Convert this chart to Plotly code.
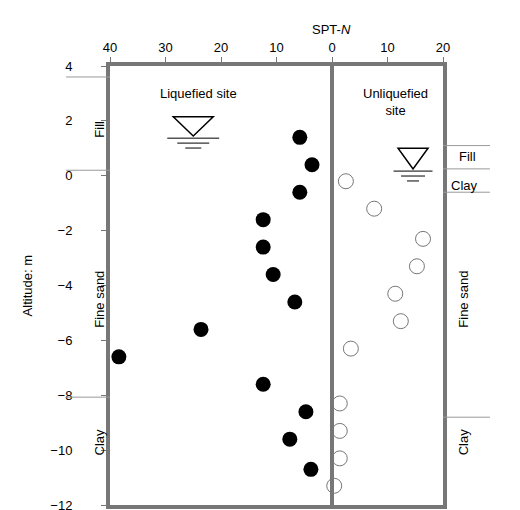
import plotly.graph_objects as go

liq_n = [5.8, 3.6, 5.8, 12.4, 12.4, 10.6, 6.7, 23.6, 38.4, 12.4, 4.7, 7.6, 3.8]
liq_alt = [1.4, 0.4, -0.6, -1.6, -2.6, -3.6, -4.6, -5.6, -6.6, -7.6, -8.6, -9.6, -10.7]
unl_n = [2.5, 7.6, 16.4, 15.3, 11.4, 12.4, 3.4, 1.4, 1.4, 1.4, 0.4]
unl_alt = [-0.2, -1.2, -2.3, -3.3, -4.3, -5.3, -6.3, -8.3, -9.3, -10.3, -11.3]
x_ticks = [-40, -30, -20, -10, 0, 10, 20]
x_labels = ["40", "30", "20", "10", "0", "10", "20"]
y_ticks = [-12, -10, -8, -6, -4, -2, 0, 2, 4]

fig = go.Figure()
fig.add_trace(go.Scatter(x=[-v for v in liq_n], y=liq_alt, mode="markers",
                         marker=dict(size=15, color="black"), showlegend=False))
fig.add_trace(go.Scatter(x=unl_n, y=unl_alt, mode="markers",
                         marker=dict(size=15, color="white", line=dict(color="#777", width=1)),
                         showlegend=False))

shapes = [dict(type="line", x0=0, x1=0, y0=-12, y1=4, line=dict(color="#777", width=4))]
grey = dict(color="#999", width=1)
for y in [3.6, 0.2, -8.07]:
    shapes.append(dict(type="line", xref="paper", x0=-0.132, x1=0, y0=y, y1=y, line=grey))
for y in [1.1, 0.25, -0.6, -8.8]:
    shapes.append(dict(type="line", xref="paper", x0=1, x1=1.141, y0=y, y1=y, line=grey))

def wt(xc, ytop, yap, hw):
    s = [dict(type="path", path=f"M {xc-hw},{ytop} L {xc+hw},{ytop} L {xc},{yap} Z",
              line=dict(color="black", width=1.5))]
    for i, w in enumerate([hw*1.3, hw*0.8, hw*0.4]):
        yy = yap - 0.08 - i*0.18
        s.append(dict(type="line", x0=xc-w, x1=xc+w, y0=yy, y1=yy, line=dict(color="black", width=1)))
    return s
shapes += wt(-25, 2.15, 1.45, 3.6)
shapes += wt(14.6, 1.0, 0.25, 2.7)

ann = []
def a(x, y, t, xref="paper", yref="paper", ang=0, size=13):
    ann.append(dict(x=x, y=y, xref=xref, yref=yref, text=t, showarrow=False, textangle=ang,
                    font=dict(size=size, color="black")))
a(-24, 3.0, "Liquefied site", xref="x", yref="y")
a(11.5, 2.7, "Unliquefied<br>site", xref="x", yref="y")
a(-0.06, 1.7, "Fill", yref="y", ang=-90)
a(-0.06, -4.5, "Fine sand", yref="y", ang=-90)
a(-0.06, -9.7, "Clay", yref="y", ang=-90)
a(1.105, 0.7, "Fill", yref="y")
a(1.11, -0.35, "Clay", yref="y")
a(1.09, -4.5, "Fine sand", yref="y", ang=-90)
a(1.09, -9.7, "Clay", yref="y", ang=-90)
a(-0.275, 0.5, "Altitude: m", ang=-90)
a(0.665, 1.105, "SPT-<i>N</i>")

fig.update_layout(
    width=520, height=510, margin=dict(l=102, r=85, t=58, b=13, autoexpand=False),
    plot_bgcolor="white", paper_bgcolor="white",
    font=dict(family="Liberation Sans, Arial", size=13, color="black"),
    shapes=shapes, annotations=ann,
    xaxis=dict(range=[-40, 20], side="top", tickvals=x_ticks, ticktext=x_labels,
               ticks="outside", ticklen=5, tickcolor="#777", showgrid=False, zeroline=False,
               showline=True, mirror=True, linecolor="#777", linewidth=4, automargin=False),
    yaxis=dict(range=[-12, 4], tickvals=y_ticks, ticks="outside", ticklen=5, tickcolor="#777",
               ticklabelstandoff=26, showgrid=False, zeroline=False, showline=True, mirror=True,
               linecolor="#777", linewidth=4, automargin=False),
)
fig.write_html("out.html")
